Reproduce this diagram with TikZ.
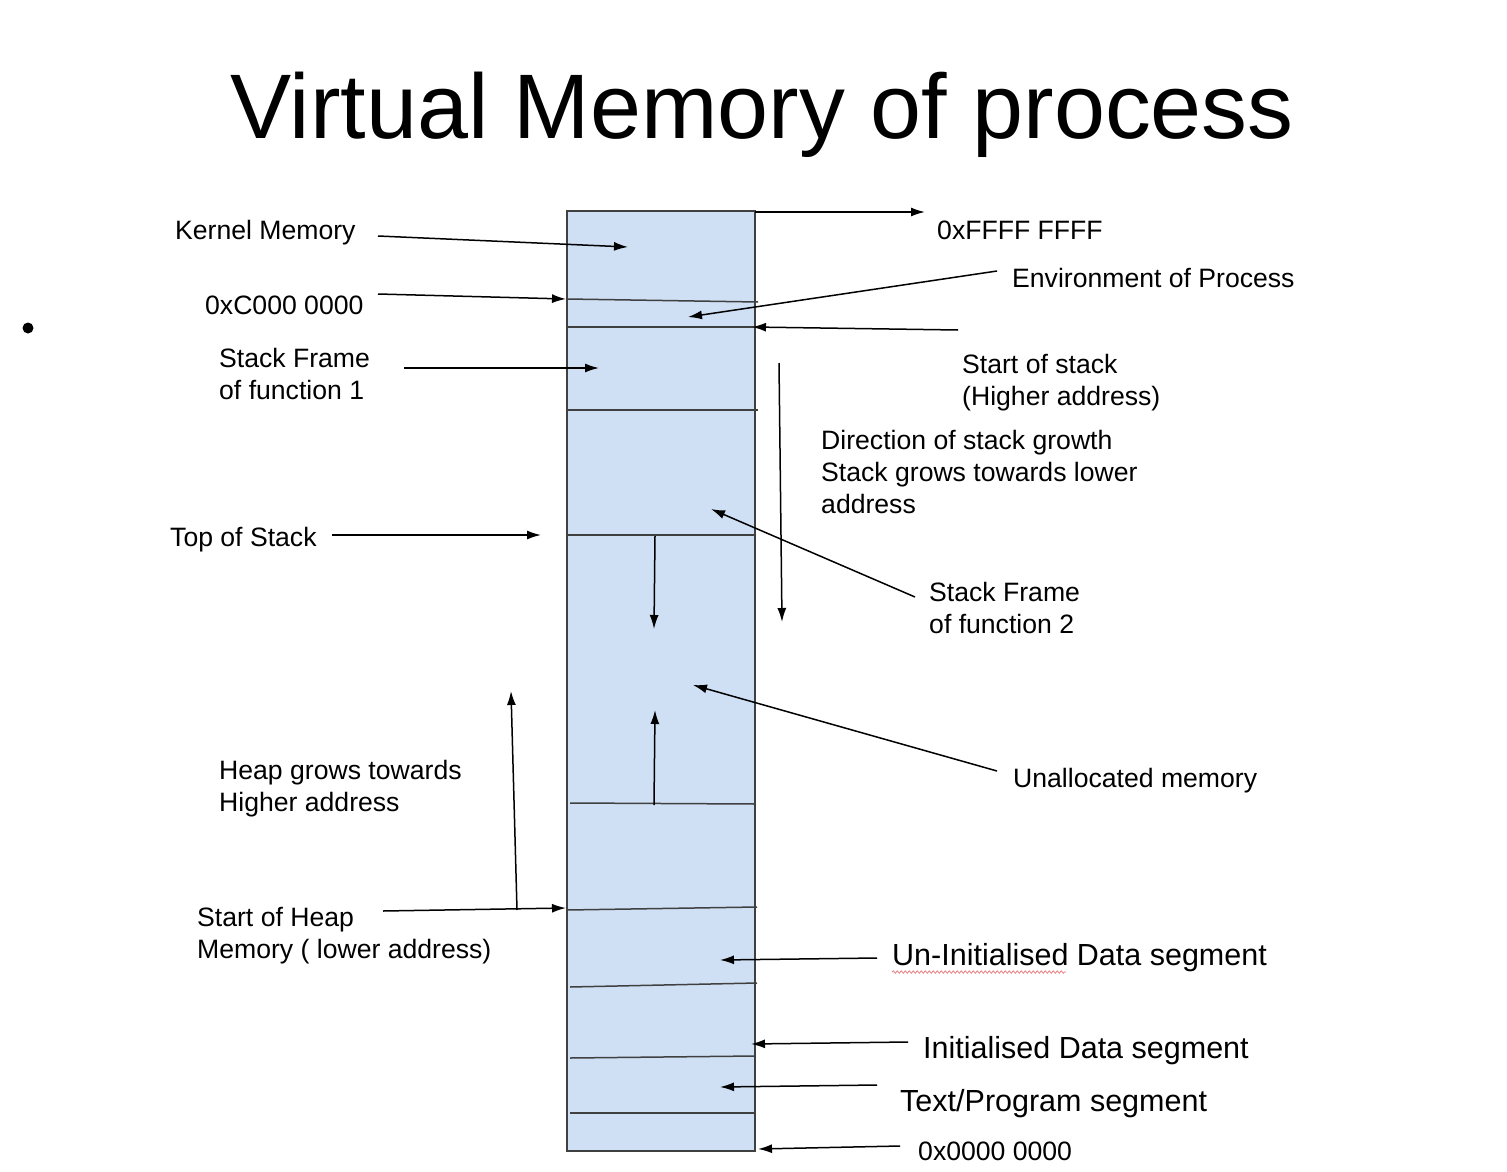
\documentclass[tikz,border=0pt]{standalone}
\usepackage{fontspec}
\setmainfont{Liberation Sans}
\usetikzlibrary{arrows.meta,decorations.pathmorphing}
\definecolor{memblue}{RGB}{207,224,245}
\definecolor{spellred}{RGB}{235,130,130}
\tikzset{
  lbl/.style={anchor=base west,inner sep=0pt,align=left,font=\fontsize{26.6}{32}\selectfont},
  biglbl/.style={lbl,font=\fontsize{30.5}{36}\selectfont},
  arr/.style={->,line width=1.5pt},
  sep/.style={line width=1.5pt,draw=black!75},
}
\begin{document}
\begin{tikzpicture}[x=1pt,y=-1pt,>={Latex[length=14pt,width=9pt]}]
\useasboundingbox (0,0) rectangle (1507,1172);
% title and bullet
\node[anchor=base,inner sep=0pt,font=\fontsize{91.7}{100}\selectfont] (title) at (762,138) {Virtual Memory of process};
\node[circle,fill,inner sep=0pt,minimum size=11pt] (dot) at (28,328) {};
% memory column
\node[draw=black!75,line width=1.5pt,fill=memblue,minimum width=188pt,minimum height=940pt,inner sep=0pt] (mem) at (661,681) {};
\draw[sep] (567,299) -- (758,302);
\draw[sep] (567,327) -- (758,327);
\draw[sep] (567,410) -- (758,410);
\draw[sep] (567,535) -- (756,535);
\draw[sep] (570,803) -- (755,804);
\draw[sep] (567,910) -- (757,907);
\draw[sep] (570,987) -- (757,983);
\draw[sep] (570,1058) -- (755,1056);
\draw[sep] (570,1113) -- (755,1113);
% labels, left side (base = last line)
\node[lbl] (kern) at (175,239) {Kernel Memory};
\node[lbl] (c000) at (205,314) {0xC000 0000};
\node[lbl] (sf1) at (219,399) {Stack Frame\\of function 1};
\node[lbl] (tos) at (170,546) {Top of Stack};
\node[lbl] (heap) at (219,811) {Heap grows towards\\Higher address};
\node[lbl] (sheap) at (197,958) {Start of Heap\\Memory ( lower address)};
% labels, right side
\node[lbl] (ffff) at (937,239) {0xFFFF FFFF};
\node[lbl] (env) at (1012,287) {Environment of Process};
\node[lbl] (sstack) at (962,405) {Start of stack\\(Higher address)};
\node[lbl] (dir) at (821,513) {Direction of stack growth\\Stack grows towards lower\\address};
\node[lbl] (sf2) at (929,633) {Stack Frame\\of function 2};
\node[lbl] (unal) at (1013,787) {Unallocated memory};
\node[biglbl] (uninit) at (892,965) {Un-Initialised Data segment};
\node[biglbl] (init) at (923,1058) {Initialised Data segment};
\node[biglbl] (txt) at (900,1111) {Text/Program segment};
\node[lbl] (zero) at (918,1160) {0x0000 0000};
\draw[spellred,line width=0.8pt,decorate,decoration={snake,amplitude=1.2pt,segment length=4pt}] (892,972) -- (1066,972);
% arrow ends
\coordinate (top1) at (755,212);   \coordinate (top2) at (925,212);
\coordinate (kern1) at (378,236);  \coordinate (kern2) at (628,247);
\coordinate (c0001) at (378,294);  \coordinate (c0002) at (566,299);
\coordinate (env1) at (997,271);   \coordinate (env2) at (688,317);
\coordinate (ss1) at (958,330);    \coordinate (ss2) at (752,327);
\coordinate (sf11) at (404,368);   \coordinate (sf12) at (599,368);
\coordinate (dir1) at (779,363);   \coordinate (dir2) at (782,622);
\coordinate (tos1) at (332,535);   \coordinate (tos2) at (541,535);
\coordinate (sf21) at (915,597);   \coordinate (sf22) at (711,509);
\coordinate (dn1) at (655,536);    \coordinate (dn2) at (654,629);
\coordinate (up1) at (654,805);    \coordinate (up2) at (655,710);
\coordinate (un1) at (997,771);    \coordinate (un2) at (693,685);
\coordinate (hg1) at (517,910);    \coordinate (hg2) at (511,691);
\coordinate (sh1) at (383,911);    \coordinate (sh2) at (566,908);
\coordinate (ui1) at (877,958);    \coordinate (ui2) at (720,960);
\coordinate (in1) at (908,1042);   \coordinate (in2) at (751,1044);
\coordinate (tx1) at (877,1085);   \coordinate (tx2) at (720,1087);
\coordinate (z1) at (900,1146);    \coordinate (z2) at (758,1149);
\path[arr]
    (top1) edge (top2)
    (kern1) edge (kern2)
    (c0001) edge (c0002)
    (env1) edge (env2)
    (ss1) edge (ss2)
    (sf11) edge (sf12)
    (dir1) edge (dir2)
    (tos1) edge (tos2)
    (sf21) edge (sf22)
    (dn1) edge (dn2)
    (up1) edge (up2)
    (un1) edge (un2)
    (hg1) edge (hg2)
    (sh1) edge (sh2)
    (ui1) edge (ui2)
    (in1) edge (in2)
    (tx1) edge (tx2)
    (z1) edge (z2);
\end{tikzpicture}
\end{document}
